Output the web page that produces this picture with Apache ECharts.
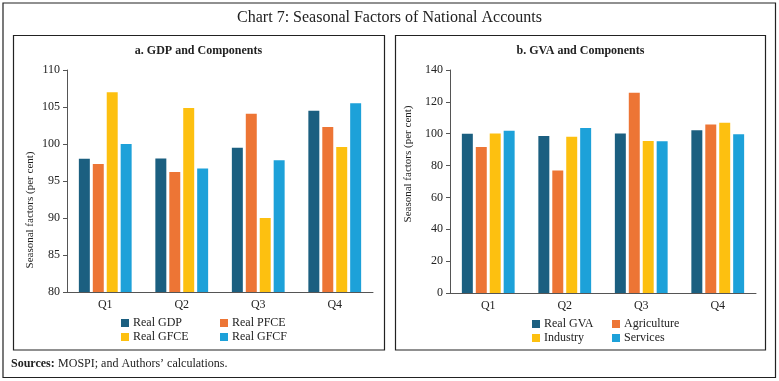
<!DOCTYPE html>
<html><head><meta charset="utf-8">
<script src="https://cdn.jsdelivr.net/npm/echarts@6/dist/echarts.min.js"></script>
<style>html,body{margin:0;padding:0;background:#fff}#c{width:779px;height:381px}</style>
</head><body><div id="c"></div>
<script>
var quarters = ['Q1','Q2','Q3','Q4'];
var gdpNames = ['Real GDP','Real PFCE','Real GFCE','Real GFCF'];
var realGDP  = [98.0, 98.05, 99.5, 104.5];
var realPFCE = [97.3, 96.2, 104.1, 102.3];
var realGFCE = [107.0, 104.85, 90.0, 99.6];
var realGFCF = [100.0, 96.7, 97.8, 105.5];
var gvaNames = ['Real GVA','Agriculture','Industry','Services'];
var realGVA     = [100.0, 98.5, 100.1, 102.1];
var agriculture = [91.7, 76.9, 125.7, 105.8];
var industry    = [100.2, 98.1, 95.4, 106.9];
var services    = [101.9, 103.6, 95.3, 99.6];
var leftTicks = [80, 110, 5];
var rightTicks = [0, 140, 20];

var colors = ['#1b5f80','#ed7535','#fdc010','#1da1d9'];
var FF = 'Liberation Serif';
var chart = echarts.init(document.getElementById('c'), null, {renderer:'canvas'});

function bar(name, data, idx, ci) {
  return {name:name, type:'bar', xAxisIndex:idx, yAxisIndex:idx, data:data,
    barCategoryGap:'31%', barGap:'27%', itemStyle:{color:colors[ci]}, animation:false};
}
function xAx(idx){
  return {type:'category', gridIndex:idx, data:quarters,
    axisLine:{lineStyle:{color:'#555', width:1}}, axisTick:{show:false},
    axisLabel:{fontFamily:FF, fontSize:12, color:'#222', margin:7}};
}
function yAx(idx, t){
  return {type:'value', gridIndex:idx, min:t[0], max:t[1], interval:t[2],
    axisLine:{show:true, lineStyle:{color:'#555'}}, axisTick:{show:true, length:4, lineStyle:{color:'#555'}},
    splitLine:{show:false},
    axisLabel:{fontFamily:FF, fontSize:12, color:'#222', margin:7}};
}
function legend(left, top, names){
  return {orient:'vertical', left:left, top:top, padding:0, itemWidth:8, itemHeight:8, itemGap:2,
    icon:'rect', data:names, selectedMode:false,
    textStyle:{fontFamily:FF, fontSize:12, color:'#222', lineHeight:12, padding:[0,0,0,-1]}};
}
var option = {
  animation:false,
  grid:[{left:67, top:70, width:306, height:222},{left:450, top:70, width:306, height:223}],
  xAxis:[xAx(0), xAx(1)],
  yAxis:[yAx(0,leftTicks), yAx(1,rightTicks)],
  legend:[
    legend(121, 317, [gdpNames[0], gdpNames[2]]),
    legend(220, 317, [gdpNames[1], gdpNames[3]]),
    legend(532, 318, [gvaNames[0], gvaNames[2]]),
    legend(612, 318, [gvaNames[1], gvaNames[3]])
  ],
  series:[
    bar(gdpNames[0], realGDP, 0, 0), bar(gdpNames[1], realPFCE, 0, 1),
    bar(gdpNames[2], realGFCE, 0, 2), bar(gdpNames[3], realGFCF, 0, 3),
    bar(gvaNames[0], realGVA, 1, 0), bar(gvaNames[1], agriculture, 1, 1),
    bar(gvaNames[2], industry, 1, 2), bar(gvaNames[3], services, 1, 3)
  ],
  graphic:[
    {type:'rect', shape:{x:3, y:3, width:772.5, height:374.5}, style:{fill:null, stroke:'#222', lineWidth:1.2}, silent:true},
    {type:'rect', shape:{x:13.5, y:35.5, width:371, height:314.5}, style:{fill:null, stroke:'#222', lineWidth:1.2}, silent:true},
    {type:'rect', shape:{x:395.5, y:35.5, width:370, height:314.5}, style:{fill:null, stroke:'#222', lineWidth:1.2}, silent:true},
    {type:'text', x:389.5, y:18, style:{text:'Chart 7: Seasonal Factors of National Accounts', font:'16px "Liberation Serif"', fill:'#222', textAlign:'center', textVerticalAlign:'middle'}},
    {type:'text', x:198.5, y:51, style:{text:'a. GDP and Components', font:'bold 12px "Liberation Serif"', fill:'#222', textAlign:'center', textVerticalAlign:'middle'}},
    {type:'text', x:580.5, y:51, style:{text:'b. GVA and Components', font:'bold 12px "Liberation Serif"', fill:'#222', textAlign:'center', textVerticalAlign:'middle'}},
    {type:'text', x:30, y:210, rotation:Math.PI/2, style:{text:'Seasonal factors (per cent)', font:'11px "Liberation Serif"', fill:'#222', textAlign:'center', textVerticalAlign:'middle'}},
    {type:'text', x:408, y:164, rotation:Math.PI/2, style:{text:'Seasonal factors (per cent)', font:'11px "Liberation Serif"', fill:'#222', textAlign:'center', textVerticalAlign:'middle'}},
    {type:'text', x:11, y:364, style:{rich:{b:{font:'bold 12px "Liberation Serif"', fill:'#222'}, r:{font:'12px "Liberation Serif"', fill:'#222'}}, text:'{b|Sources:} {r|MOSPI; and Authors\u2019 calculations.}', textVerticalAlign:'middle'}}
  ]
};
chart.setOption(option);
</script></body></html>
